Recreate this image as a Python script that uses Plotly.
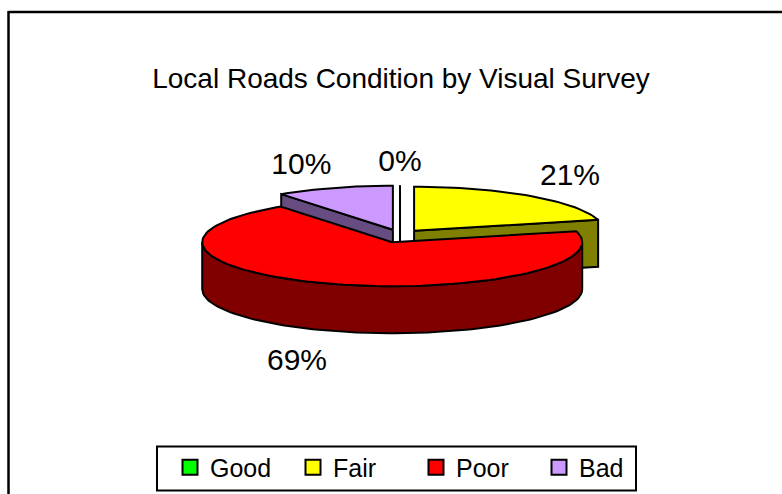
import numpy as np
import plotly.graph_objects as go

categories = ["Good", "Fair", "Poor", "Bad"]
shares = [0, 21, 69, 10]
top_colors = ["#00FF00", "#FFFF00", "#FF0000", "#CC99FF"]
side_colors = ["#008000", "#808000", "#800000", "#664C80"]
draw_order = [1, 3, 0, 2]

W, H = 782, 494
CX, CY = 400, 236
RX, RY = 190, 44
DEPTH = 47
EX, EY = 23, 6.6
OUT = 2
LABEL_FX = [1.6, 1.46, 1.6, 1.68]
LABEL_FY = [1.64, 1.67, 1.93, 1.67]


def arc(a, b, ox, oy, dz=0):
    n = max(2, int(abs(b - a) / 2) + 2)
    t = np.radians(np.linspace(a, b, n))
    return ox + RX * np.sin(t), oy - RY * np.cos(t) + dz


def poly(fig, x, y, fill):
    fig.add_trace(go.Scatter(x=list(x) + [x[0]], y=list(y) + [y[0]], mode="lines", fill="toself",
                             fillcolor=fill, line=dict(color="black", width=OUT),
                             showlegend=False, hoverinfo="skip"))


starts = np.concatenate([[0], np.cumsum(shares)[:-1]]) * 3.6
ends = np.cumsum(shares) * 3.6

fig = go.Figure()
for i in draw_order:
    a, b = float(starts[i]), float(ends[i])
    m = np.radians((a + b) / 2)
    ox = CX + EX * np.sin(m)
    oy = CY - EY * np.cos(m)
    for edge, visible in ((a, np.sin(np.radians(a)) < -1e-6), (b, np.sin(np.radians(b)) > 1e-6)):
        if visible or shares[i] == 0:
            ex = ox + RX * np.sin(np.radians(edge))
            ey = oy - RY * np.cos(np.radians(edge))
            poly(fig, [ox, ex, ex, ox], [oy, ey, ey + DEPTH, oy + DEPTH], side_colors[i])
    lo, hi = max(a, 90), min(b, 270)
    if hi > lo:
        x1, y1 = arc(lo, hi, ox, oy)
        x2, y2 = arc(hi, lo, ox, oy, DEPTH)
        poly(fig, np.r_[x1, x2], np.r_[y1, y2], side_colors[i])
    x1, y1 = arc(a, b, ox, oy)
    poly(fig, np.r_[ox, x1], np.r_[oy, y1], top_colors[i])

for i, cat in enumerate(categories):
    m = np.radians((starts[i] + ends[i]) / 2)
    front = np.cos(m) < 0
    fig.add_trace(go.Scatter(
        x=[CX + LABEL_FX[i] * RX * np.sin(m)],
        y=[CY - LABEL_FY[i] * RY * np.cos(m) + (DEPTH if front else 0)],
        mode="text", text=[f"{shares[i]}%"], textposition="middle center",
        textfont=dict(family="Liberation Sans", size=30, color="black"),
        showlegend=False, hoverinfo="skip"))

for i, cat in enumerate(categories):
    fig.add_trace(go.Scatter(x=[None], y=[None], mode="markers", name=cat,
                             marker=dict(symbol="square", size=15, color=top_colors[i],
                                         line=dict(color="black", width=2))))

fig.update_layout(
    width=W, height=H, margin=dict(l=0, r=0, t=0, b=0),
    paper_bgcolor="white", plot_bgcolor="white",
    font=dict(family="Liberation Sans", color="black"),
    title=dict(text="Local Roads Condition by Visual Survey", x=401 / W, xanchor="center",
               y=1 - 78 / H, yanchor="middle", font=dict(size=28, family="Liberation Sans", color="black")),
    xaxis=dict(range=[0, W], visible=False, fixedrange=True),
    yaxis=dict(range=[H, 0], visible=False, fixedrange=True),
    legend=dict(orientation="h", x=170 / W, xanchor="left", y=1 - 444.5 / H, yanchor="top",
                bgcolor="rgba(0,0,0,0)", borderwidth=0,
                font=dict(size=25, family="Liberation Sans", color="black"),
                itemsizing="trace", traceorder="normal",
                entrywidth=78, entrywidthmode="pixels"),
    shapes=[
        dict(type="line", xref="paper", yref="paper", x0=8.5 / W, x1=1, y0=1 - 12 / H, y1=1 - 12 / H,
             line=dict(color="black", width=2.5)),
        dict(type="line", xref="paper", yref="paper", x0=8.5 / W, x1=8.5 / W, y0=1 - 11 / H, y1=0,
             line=dict(color="black", width=2.5)),
        dict(type="rect", xref="paper", yref="paper", x0=157 / W, x1=636 / W, y0=1 - 446.5 / H, y1=1 - 490.5 / H,
             line=dict(color="black", width=2), fillcolor="white", layer="below"),
    ],
)
fig.write_html("out.html", config={"displayModeBar": False},
               post_script="document.body.style.margin='0';document.body.style.overflow='hidden';")
